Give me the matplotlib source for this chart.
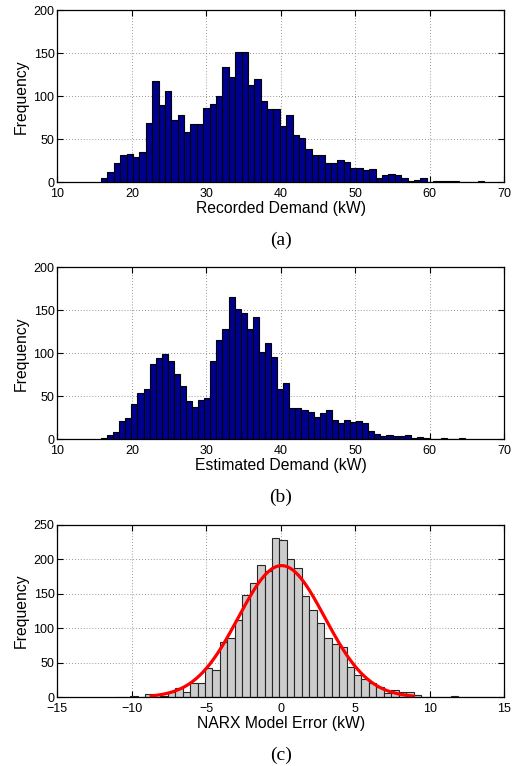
import numpy as np
import matplotlib
matplotlib.use("Agg")
from matplotlib import pyplot as plt

plt.rcParams["font.family"] = ["Liberation Sans", "DejaVu Sans"]

# (a) recorded demand histogram, 60 bins
rec_lo, rec_w = 15.87, 0.857
rec_counts = [5, 12, 23, 32, 33, 30, 35, 69, 118, 90,
              106, 73, 78, 58, 68, 68, 87, 91, 100, 134,
              122, 151, 152, 113, 120, 95, 85, 85, 65, 78,
              55, 51, 39, 32, 32, 23, 23, 26, 24, 17,
              17, 14, 15, 5, 9, 10, 8, 5, 2, 3,
              5, 0, 2, 2, 2, 2, 0, 0, 0, 1]

# (b) estimated demand histogram, 60 bins
est_lo, est_w = 15.87, 0.815
est_counts = [2, 5, 8, 21, 25, 41, 54, 58, 88, 95,
              99, 91, 76, 62, 45, 38, 46, 48, 91, 115,
              128, 165, 151, 147, 128, 142, 102, 112, 96, 59,
              65, 36, 36, 34, 32, 26, 31, 34, 23, 19,
              23, 20, 21, 19, 10, 6, 4, 5, 4, 4,
              5, 1, 3, 1, 0, 0, 1, 0, 0, 1]

# (c) NARX model error histogram, 0.5 kW bins
err_lo, err_w = -11.09, 0.5
err_counts = [1, 1, 2, 0, 5, 1, 2, 8, 14, 8,
              21, 21, 42, 39, 80, 86, 112, 148, 166, 192,
              183, 231, 228, 200, 187, 147, 126, 107, 86, 77,
              73, 44, 32, 26, 21, 15, 6, 11, 8, 7,
              3, 1, 1, 1, 0, 2, 0, 0, 0, 0, 1]

# normal fit drawn over the error histogram
fit_mu, fit_sigma = 0.05, 2.9
fit_range = (-8.7, 8.9)

fig = plt.figure(figsize=(5.15, 7.66), dpi=100)

def centers(lo, w, n):
    return lo + w / 2 + w * np.arange(n)

def style(ax, xlim, xticks, ylim, yticks, xlabel, tag):
    ax.set_xlim(*xlim)
    ax.set_ylim(*ylim)
    ax.set_xticks(xticks)
    ax.set_yticks(yticks)
    ax.set_xticklabels([str(t).replace("-", "\u2212") for t in xticks])
    ax.tick_params(direction="in", top=True, right=True, length=4,
                   width=0.8, labelsize=9)
    ax.tick_params(axis="x", pad=4.4)
    ax.tick_params(axis="y", pad=2)
    ax.grid(True, linestyle=(0, (1, 2.5)), color="0.45", linewidth=0.6)
    ax.set_axisbelow(True)
    for s in ax.spines.values():
        s.set_linewidth(0.9)
    ax.set_ylabel("Frequency", fontsize=11.3)
    ax.yaxis.set_label_coords(-0.064, 0.5)
    ax.set_xlabel(xlabel, fontsize=11.3)
    ax.xaxis.set_label_coords(0.5, -0.106)
    ax.text(0.5, -0.335, tag, transform=ax.transAxes, ha="center", va="center",
            fontsize=14, family="Liberation Serif")

ax1 = fig.add_axes([0.1113, 0.762, 0.868, 0.2245])
ax1.bar(centers(rec_lo, rec_w, len(rec_counts)), rec_counts, width=rec_w,
        color="#00008f", edgecolor="black", linewidth=0.8)
style(ax1, (10, 70), [10, 20, 30, 40, 50, 60, 70], (0, 200),
      [0, 50, 100, 150, 200], "Recorded Demand (kW)", "(a)")

ax2 = fig.add_axes([0.1113, 0.4265, 0.868, 0.2245])
ax2.bar(centers(est_lo, est_w, len(est_counts)), est_counts, width=est_w,
        color="#00008f", edgecolor="black", linewidth=0.8)
style(ax2, (10, 70), [10, 20, 30, 40, 50, 60, 70], (0, 200),
      [0, 50, 100, 150, 200], "Estimated Demand (kW)", "(b)")

ax3 = fig.add_axes([0.1113, 0.0897, 0.868, 0.2253])
ax3.bar(centers(err_lo, err_w, len(err_counts)), err_counts, width=err_w,
        color="0.8", edgecolor="0.15", linewidth=0.8)
xf = np.linspace(fit_range[0], fit_range[1], 300)
yf = (sum(err_counts) * err_w / (fit_sigma * np.sqrt(2 * np.pi))
      * np.exp(-0.5 * ((xf - fit_mu) / fit_sigma) ** 2))
ax3.plot(xf, yf, color="red", linewidth=2.3)
style(ax3, (-15, 15), [-15, -10, -5, 0, 5, 10, 15], (0, 250),
      [0, 50, 100, 150, 200, 250], "NARX Model Error (kW)", "(c)")

fig.savefig("out.png", dpi=100)
